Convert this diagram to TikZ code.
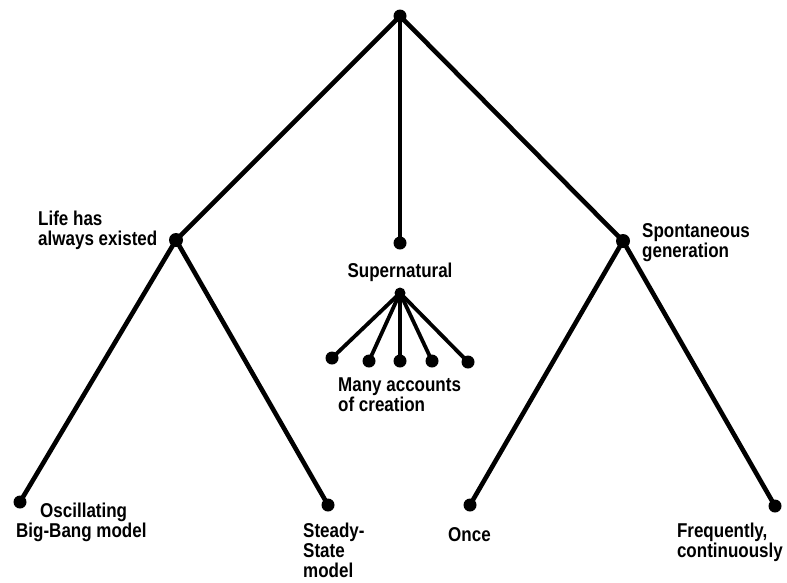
\documentclass[tikz,border=0pt]{standalone}
\usepackage{fontspec}
\newfontfamily\labfont{Liberation Sans}[FakeStretch=0.85]
\begin{document}
\begin{tikzpicture}[x=1pt,y=-1pt,
  dot/.style={circle,fill=black,inner sep=0pt,minimum size=14pt},
  sdot/.style={circle,fill=black,inner sep=0pt,minimum size=13pt},
  branch/.style={line width=4.6pt,line cap=round},
  twig/.style={line width=3.8pt,line cap=round},
  lab/.style={inner sep=0pt,align=left,font=\labfont\bfseries\fontsize{20}{20}\selectfont}]
\useasboundingbox (0,0) rectangle (787,582);
% dots
\node[sdot] (top) at (400,16) {};
\node[dot] (life) at (176,240) {};
\node[sdot] (sup) at (400,243) {};
\node[dot] (spon) at (623,241) {};
\coordinate (hub) at (400,293);
\node[sdot] (m1) at (332,358) {};
\node[sdot] (m2) at (369,361) {};
\node[sdot] (m3) at (400,361) {};
\node[sdot] (m4) at (432,361) {};
\node[sdot] (m5) at (468,362) {};
\node[sdot] (osc) at (20,502) {};
\node[sdot] (ste) at (328,505) {};
\node[sdot] (onc) at (470,505) {};
\node[sdot] (fre) at (775,506) {};
% connectors
\draw[branch] (top.center) -- (life.center);
\draw[branch] (top.center) -- (sup.center);
\draw[branch] (top.center) -- (spon.center);
\draw[branch] (life.center) -- (osc.center);
\draw[branch] (life.center) -- (ste.center);
\draw[branch] (spon.center) -- (onc.center);
\draw[branch] (spon.center) -- (fre.center);
\foreach \m in {m1,m2,m3,m4,m5} \draw[twig] (hub) -- (\m.center);
\fill (hub) circle (5.5pt);
% labels
\node[lab,anchor=north west] (tlife) at (38,211) {Life has\\always existed};
\node[lab,anchor=base] (tsup) at (400,277) {Supernatural};
\node[lab,anchor=north west] (tmany) at (338,378) {Many accounts\\of creation};
\node[lab,anchor=north west] (tspon) at (642,223) {Spontaneous\\generation};
\node[lab,anchor=north west] (tosc) at (16,503) {\hspace*{24pt}Oscillating\\Big-Bang model};
\node[lab,anchor=north west] (tste) at (303,523) {Steady-\\State\\model};
\node[lab,anchor=north west] (tonc) at (448,527) {Once};
\node[lab,anchor=north east] (tfre) at (783,523) {Frequently,\\continuously};
\end{tikzpicture}
\end{document}
